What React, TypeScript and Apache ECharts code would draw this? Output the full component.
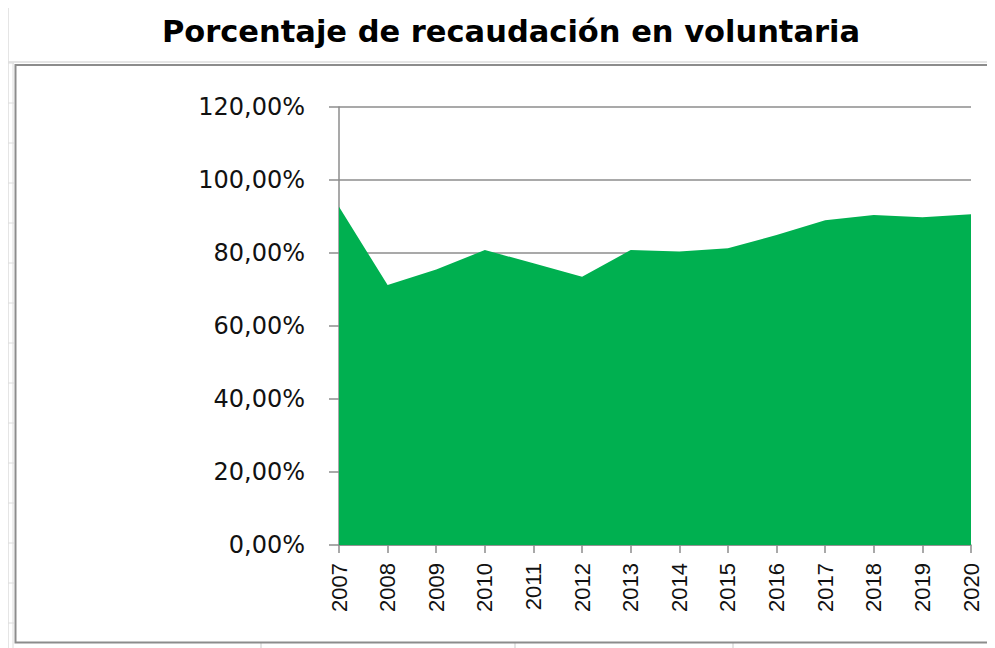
import React, { useEffect, useRef } from "react";
import * as echarts from "echarts";

const title = "Porcentaje de recaudación en voluntaria";
const years = ["2007", "2008", "2009", "2010", "2011", "2012", "2013", "2014", "2015", "2016", "2017", "2018", "2019", "2020"];
const percentages = [92.7, 71.2, 75.5, 80.8, 77.2, 73.5, 80.8, 80.4, 81.3, 84.9, 89.0, 90.4, 89.8, 90.6];
const yMin = 0;
const yMax = 120;
const yStep = 20;

const sheetRows = [63, 103, 143, 183, 223, 263, 303, 343, 383, 423, 463, 503, 543, 583, 623];
const sheetCols = [261, 515, 733];

export default function App() {
  const ref = useRef<HTMLDivElement>(null);
  useEffect(() => {
    if (!ref.current) return;
    const chart = echarts.init(ref.current, null, { renderer: "svg" });
    const light = "#dcdcdc";
    const graphics: any[] = [];
    // spreadsheet background grid
    graphics.push({ type: "line", shape: { x1: 8, y1: 7, x2: 995, y2: 7 }, style: { stroke: light, lineWidth: 1.5 }, z: 0 });
    graphics.push({ type: "line", shape: { x1: 8, y1: 7, x2: 8, y2: 648 }, style: { stroke: light, lineWidth: 1.5 }, z: 0 });
    graphics.push({ type: "line", shape: { x1: 13, y1: 63, x2: 13, y2: 648 }, style: { stroke: light, lineWidth: 1 }, z: 0 });
    graphics.push({ type: "line", shape: { x1: 8, y1: 62, x2: 995, y2: 62 }, style: { stroke: light, lineWidth: 1.5 }, z: 0 });
    sheetRows.forEach((y) => {
      graphics.push({ type: "line", shape: { x1: 8, y1: y, x2: 14, y2: y }, style: { stroke: light, lineWidth: 1 }, z: 0 });
      graphics.push({ type: "line", shape: { x1: 991, y1: y, x2: 995, y2: y }, style: { stroke: light, lineWidth: 1 }, z: 0 });
    });
    sheetCols.forEach((x) => {
      graphics.push({ type: "line", shape: { x1: x, y1: 643, x2: x, y2: 648 }, style: { stroke: light, lineWidth: 1.5 }, z: 0 });
    });
    // chart border
    graphics.push({
      type: "rect",
      shape: { x: 15.5, y: 65, width: 975, height: 577.5 },
      style: { fill: "none", stroke: "#8c8c8c", lineWidth: 2 },
      z: 0,
    });

    chart.setOption({
      animation: false,
      backgroundColor: "#ffffff",
      title: {
        text: title,
        left: 506,
        textAlign: "center",
        top: 11,
        textStyle: {
          fontFamily: "DejaVu Sans",
          fontWeight: "bold",
          fontSize: 30.5,
          color: "#000000",
        },
      },
      graphic: graphics,
      grid: { left: 339, right: 24, top: 107, bottom: 103, containLabel: false },
      xAxis: {
        type: "category",
        data: years,
        boundaryGap: false,
        axisLine: { show: true, lineStyle: { color: "#8c8c8c", width: 1.5 } },
        axisTick: { show: true, length: 8, lineStyle: { color: "#8c8c8c", width: 1.5 } },
        axisLabel: {
          rotate: 90,
          margin: 18,
          fontSize: 22,
          fontFamily: "Liberation Sans",
          color: "#111111",
          interval: 0,
        },
        splitLine: { show: false },
      },
      yAxis: {
        type: "value",
        min: yMin,
        max: yMax,
        interval: yStep,
        axisLine: { show: true, lineStyle: { color: "#8c8c8c", width: 1.5 } },
        axisTick: { show: true, length: 10, lineStyle: { color: "#8c8c8c", width: 1.5 } },
        axisLabel: {
          margin: 34,
          fontSize: 24,
          fontFamily: "DejaVu Sans",
          color: "#111111",
          formatter: (v: number) => v.toFixed(2).replace(".", ",") + "%",
        },
        splitLine: { show: true, lineStyle: { color: "#8c8c8c", width: 1.5 } },
      },
      series: [
        {
          type: "line",
          data: percentages,
          symbol: "none",
          smooth: false,
          lineStyle: { width: 0, color: "#00B050" },
          areaStyle: { color: "#00B050", opacity: 1 },
          itemStyle: { color: "#00B050" },
          z: 2,
        },
      ],
    });
    return () => chart.dispose();
  }, []);
  return <div ref={ref} style={{ width: 995, height: 648, marginLeft: -8, marginTop: -8 }} />;
}
